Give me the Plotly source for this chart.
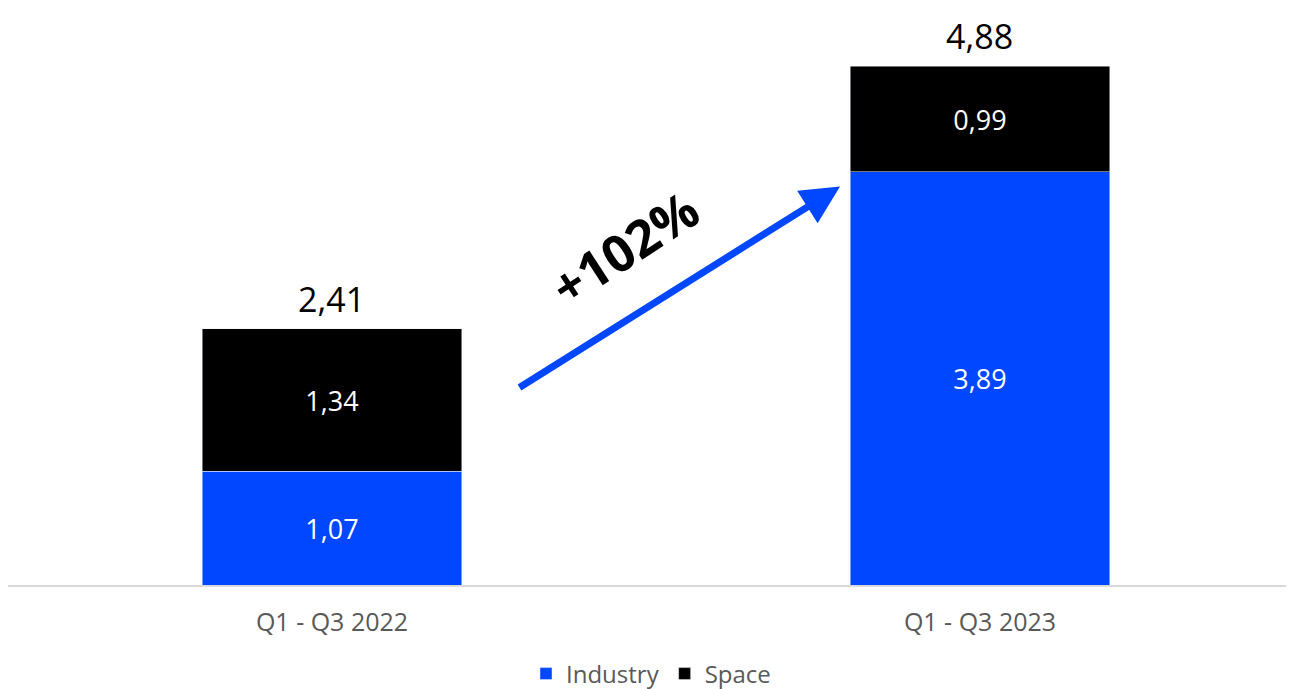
import plotly.graph_objects as go

categories = ["Q1 - Q3 2022", "Q1 - Q3 2023"]
industry = [1.07, 3.89]
space = [1.34, 0.99]
totals = [2.41, 4.88]
growth_label = "+102%"

BLUE = "#0047FF"
FONT = "Open Sans"

def fmt(v):
    return f"{v:.2f}".replace(".", ",")

fig = go.Figure()
fig.add_trace(go.Bar(
    x=categories, y=industry, name="Industry", marker_color=BLUE, width=0.4,
    text=[fmt(v) for v in industry], textposition="inside", insidetextanchor="middle",
    textfont=dict(color="white", size=27, family=FONT),
))
fig.add_trace(go.Bar(
    x=categories, y=space, name="Space", marker_color="#000000", width=0.4,
    text=[fmt(v) for v in space], textposition="inside", insidetextanchor="middle",
    textfont=dict(color="white", size=27, family=FONT),
))

for c, t in zip(categories, totals):
    fig.add_annotation(x=c, y=t, text=fmt(t), showarrow=False, yanchor="bottom", yshift=6,
                       borderpad=0, font=dict(size=34, color="#000000", family=FONT))

# growth arrow
fig.add_annotation(x=0.784, y=3.75, ax=0.287, ay=1.85, xref="x", yref="y", axref="x", ayref="y",
                   text="", showarrow=True, arrowhead=2, arrowsize=1.1, arrowwidth=7,
                   arrowcolor=BLUE)
fig.add_annotation(x=0.452, y=3.18, xref="x", yref="y", text="<b>" + growth_label + "</b>",
                   showarrow=False, textangle=-33, font=dict(size=51, color="#000000", family=FONT))

fig.update_layout(
    width=1294, height=689, barmode="stack", bargap=0.6,
    plot_bgcolor="white", paper_bgcolor="white",
    margin=dict(l=0, r=8, t=10, b=106),
    font=dict(family=FONT, color="#595959"),
    legend=dict(orientation="h", x=0.5, xanchor="center", y=-0.157, yanchor="middle",
                font=dict(size=24, color="#595959", family=FONT), itemwidth=30,
                traceorder="normal"),
    xaxis=dict(type="category", range=[-0.5, 1.4846], showline=True, linecolor="#d9d9d9",
               linewidth=2, ticks="", ticklabelstandoff=14,
               tickfont=dict(size=25, color="#595959", family=FONT),
               showgrid=False),
    yaxis=dict(range=[0, 5.336], visible=False, showgrid=False),
)

fig.write_html("out.html")
